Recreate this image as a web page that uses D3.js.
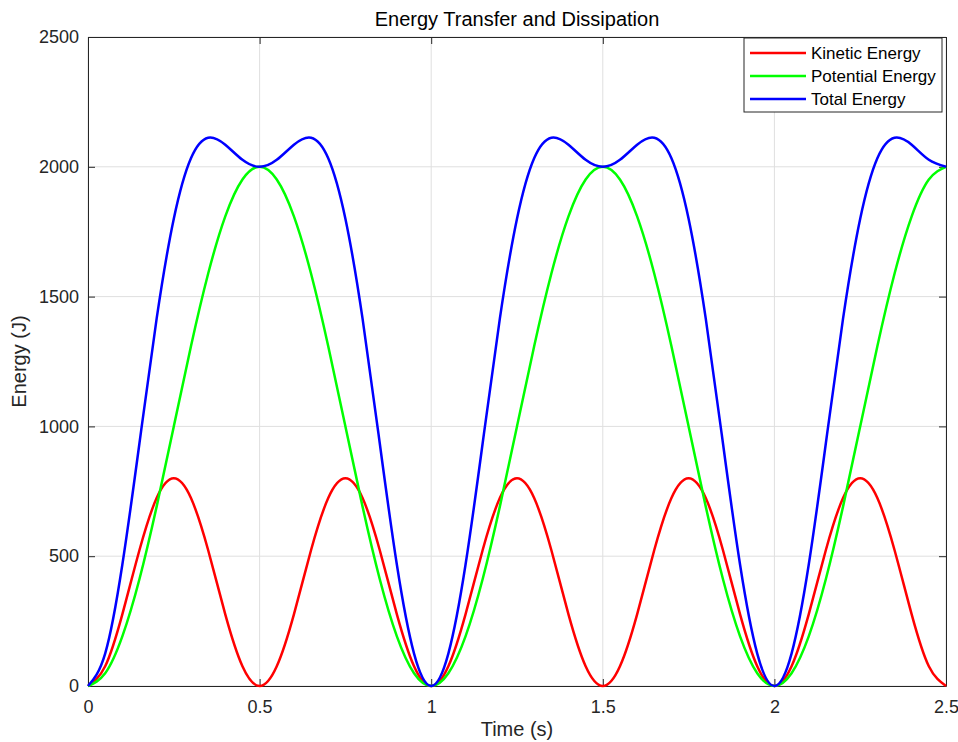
<!DOCTYPE html>
<html>
<head>
<meta charset="utf-8">
<script src="https://cdn.jsdelivr.net/npm/d3@7"></script>
<style>
  body { margin: 0; background: #fff; }
  svg { font-family: "Liberation Sans", Arial, sans-serif; }
  .grid line { stroke: #dfdfdf; stroke-width: 1; }
  .axis text { fill: #262626; font-size: 18px; }
  .axis path, .axis line { stroke: #262626; }
</style>
</head>
<body>
<svg width="958" height="742"></svg>
<script>
// values, every 0.05 s
const time = d3.range(51).map(i => +(i * 0.05).toFixed(2));
const kinetic = [
  0, 76, 276, 524, 724, 800, 724, 524, 276, 76,
  0, 76, 276, 524, 724, 800, 724, 524, 276, 76,
  0, 76, 276, 524, 724, 800, 724, 524, 276, 76,
  0, 76, 276, 524, 724, 800, 724, 524, 276, 76,
  0, 76, 276, 524, 724, 800, 724, 524, 276, 76,
  0
];
const potential = [
  0, 49, 191, 412, 691, 1000, 1309, 1588, 1809, 1951,
  2000, 1951, 1809, 1588, 1309, 1000, 691, 412, 191, 49,
  0, 49, 191, 412, 691, 1000, 1309, 1588, 1809, 1951,
  2000, 1951, 1809, 1588, 1309, 1000, 691, 412, 191, 49,
  0, 49, 191, 412, 691, 1000, 1309, 1588, 1809, 1951,
  2000
];
const total = [
  0, 125, 467, 936, 1415, 1800, 2033, 2112, 2085, 2027,
  2000, 2027, 2085, 2112, 2033, 1800, 1415, 936, 467, 125,
  0, 125, 467, 936, 1415, 1800, 2033, 2112, 2085, 2027,
  2000, 2027, 2085, 2112, 2033, 1800, 1415, 936, 467, 125,
  0, 125, 467, 936, 1415, 1800, 2033, 2112, 2085, 2027,
  2000
];
const seriesNames = ["Kinetic Energy", "Potential Energy", "Total Energy"];
const seriesColors = ["#ff0000", "#00ff00", "#0000ff"];
const xTicks = [0, 0.5, 1, 1.5, 2, 2.5];
const yTicks = [0, 500, 1000, 1500, 2000, 2500];

const margin = {top: 37, right: 12, bottom: 56, left: 88};
const width = 958, height = 742;
const iw = width - margin.left - margin.right;
const ih = height - margin.top - margin.bottom;

const svg = d3.select("svg");
const g = svg.append("g").attr("transform", `translate(${margin.left},${margin.top})`);

const x = d3.scaleLinear().domain([0, 2.5]).range([0, iw]);
const y = d3.scaleLinear().domain([0, 2500]).range([ih, 0]);

// grid
g.append("g").attr("class", "grid")
  .selectAll("line.v").data(xTicks).enter().append("line")
  .attr("x1", d => x(d)).attr("x2", d => x(d)).attr("y1", 0).attr("y2", ih);
g.append("g").attr("class", "grid")
  .selectAll("line.h").data(yTicks).enter().append("line")
  .attr("x1", 0).attr("x2", iw).attr("y1", d => y(d)).attr("y2", d => y(d));

// axes, ticks pointing inward
const fmt = d => String(d);
g.append("g").attr("class", "axis")
  .attr("transform", `translate(0,${ih})`)
  .call(d3.axisBottom(x).tickValues(xTicks).tickFormat(fmt).tickSizeInner(-7).tickSizeOuter(0).tickPadding(14));
g.append("g").attr("class", "axis")
  .call(d3.axisLeft(y).tickValues(yTicks).tickFormat(fmt).tickSizeInner(-7).tickSizeOuter(0).tickPadding(9));
g.append("g").attr("class", "axis")
  .call(d3.axisTop(x).tickValues(xTicks).tickFormat("").tickSizeInner(-7).tickSizeOuter(0));
g.append("g").attr("class", "axis")
  .attr("transform", `translate(${iw},0)`)
  .call(d3.axisRight(y).tickValues(yTicks).tickFormat("").tickSizeInner(-7).tickSizeOuter(0));

// lines
const series = [kinetic, potential, total];
const line = d3.line()
  .x((d, i) => x(time[i]))
  .y(d => y(d))
  .curve(d3.curveNatural);

series.forEach((vals, k) => {
  g.append("path")
    .datum(vals)
    .attr("fill", "none")
    .attr("stroke", seriesColors[k])
    .attr("stroke-width", 2.5)
    .attr("d", line);
});

// title and labels
svg.append("text")
  .attr("x", margin.left + iw / 2).attr("y", 26)
  .attr("text-anchor", "middle")
  .attr("font-size", 20).attr("fill", "#000")
  .text("Energy Transfer and Dissipation");
svg.append("text")
  .attr("x", margin.left + iw / 2).attr("y", 736)
  .attr("text-anchor", "middle")
  .attr("font-size", 20).attr("fill", "#262626")
  .text("Time (s)");
svg.append("text")
  .attr("transform", `translate(26,${margin.top + ih / 2}) rotate(-90)`)
  .attr("text-anchor", "middle")
  .attr("font-size", 20).attr("fill", "#262626")
  .text("Energy (J)");

// legend
const lg = svg.append("g").attr("transform", "translate(744,38)");
lg.append("rect")
  .attr("width", 198).attr("height", 74)
  .attr("fill", "#fff").attr("stroke", "#262626").attr("stroke-width", 1);
seriesNames.forEach((name, k) => {
  const yy = 15 + k * 23;
  lg.append("line")
    .attr("x1", 6).attr("x2", 62).attr("y1", yy).attr("y2", yy)
    .attr("stroke", seriesColors[k]).attr("stroke-width", 2.5);
  lg.append("text")
    .attr("x", 67).attr("y", yy + 6)
    .attr("font-size", 17).attr("fill", "#000")
    .text(name);
});
</script>
</body>
</html>
